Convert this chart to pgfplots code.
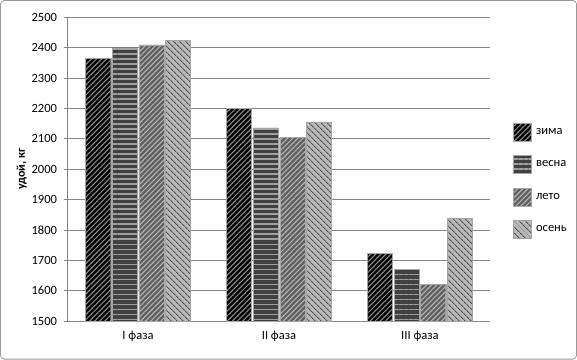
\documentclass[border=0pt]{standalone}
\usepackage{fontspec}
\setmainfont{Carlito}
\usepackage{pgfplots}
\pgfplotsset{compat=1.18}
\usetikzlibrary{patterns.meta}
\definecolor{gridc}{RGB}{134,134,134}
\begin{document}
\begin{tikzpicture}
\begin{axis}[
  at={(0pt,0pt)}, anchor=south west,
  scale only axis, width=422pt, height=303pt,
  ymin=1500, ymax=2500, ytick distance=100,
  xmin=-0.5, xmax=2.5,
  xtick={0,1,2}, xticklabels={I фаза, II фаза, III фаза},
  major x tick style={draw=none},
  extra x ticks={-0.5,0.5,1.5,2.5}, extra x tick labels={},
  extra x tick style={major tick length=4pt, tick style={gridc}, grid=none},
  axis x line*=bottom, axis y line*=left,
  axis line style={gridc, line width=0.8pt},
  tick style={gridc, line width=0.8pt},
  tick align=outside, major tick length=4pt,
  ymajorgrids, grid style={gridc, line width=0.8pt},
  ybar=1.5pt, bar width=25pt,
  /pgf/number format/assume math mode=true,
  /pgf/number format/1000 sep={},
  ticklabel style={font=\fontsize{12.5}{13}\selectfont},
  yticklabel style={xshift=-3pt},
  xticklabel style={yshift=-2pt},
  ylabel={\textbf{удой, кг}},
  ylabel style={font=\fontsize{12}{13}\selectfont, yshift=-2pt},
  legend cell align=left,
  legend style={at={(1.045,0.66)}, anchor=north west, draw=none, fill=none,
    font=\fontsize{12.5}{13}\selectfont, row sep=14pt,
    /tikz/every odd column/.append style={column sep=3pt}},
  legend image code/.code={\draw[#1] (0pt,-9pt) rectangle (18pt,9pt);},
]
\addplot[fill=black, draw=gray!70, postaction={pattern={Lines[angle=45,distance=3.6pt,line width=1pt]}, pattern color=gray!85}]
  coordinates {(0,2366) (1,2200) (2,1724)};
\addplot[fill=black!75, draw=gray!70, postaction={pattern={Lines[angle=0,distance=5pt,line width=1.6pt]}, pattern color=gray!75}]
  coordinates {(0,2400) (1,2136) (2,1670)};
\addplot[fill=black!62, draw=gray!70, postaction={pattern={Lines[angle=45,distance=3.6pt,line width=1pt]}, pattern color=gray!55}]
  coordinates {(0,2410) (1,2104) (2,1622)};
\addplot[fill=black!28, draw=gray!70, postaction={pattern={Lines[angle=-45,distance=4pt,line width=1pt]}, pattern color=gray!140}]
  coordinates {(0,2424) (1,2156) (2,1839)};
\legend{зима, весна, лето, осень}
\end{axis}
\draw[gray!80, rounded corners=4pt, line width=0.8pt] (-67pt,-38pt) rectangle (508pt,320pt);
\end{tikzpicture}
\end{document}
